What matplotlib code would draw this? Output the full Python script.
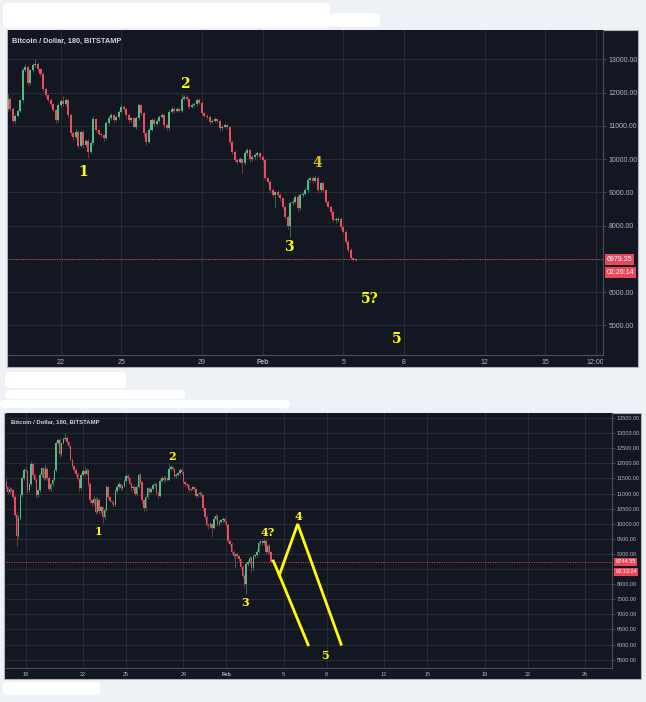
import numpy as np
import matplotlib

matplotlib.use("Agg")
import matplotlib.pyplot as plt
from matplotlib.patches import Rectangle, FancyBboxPatch
from matplotlib.transforms import blended_transform_factory, Bbox, TransformedBbox

W, H = 646, 702

# BTC/USD 3h candles (Bitstamp). Day numbers are counted in January days,
# so Feb 1 == 32. First candle opens Jan 16 15:00.
t_first = 16.625
t_step = 0.125
first_open = 11390
closes = [
    11200, 11060, 11150, 11100, 10900, 10300, 9600, 10200,
    10940, 11500, 11780, 11750, 11100, 11300, 11990, 11600,
    11450, 10940, 11100, 11600, 11830, 11500, 11820, 11520,
    11150, 11300, 11450, 11770, 12670, 12770, 12300, 12670,
    12820, 12850, 12700, 12570, 12120, 11920, 11770, 11650,
    11470, 11170, 11620, 11750, 11650, 11770, 11320, 10770,
    10670, 10820, 10400, 10800, 10420, 10550, 10220, 10470,
    11200, 10870, 10750, 10720, 10620, 11070, 11220, 11320,
    11170, 11250, 11420, 11570, 11500, 11320, 11170, 11220,
    10970, 11220, 11620, 11370, 10770, 10520, 10870, 11170,
    11050, 11150, 11270, 11320, 11020, 10920, 11420, 11520,
    11450, 11520, 11450, 11820, 11870, 11800, 11570, 11620,
    11670, 11790, 11700, 11370, 11300, 11270, 11120, 11150,
    11200, 11150, 10920, 10970, 11020, 10950, 10520, 10220,
    9970, 9920, 9990, 9870, 10170, 10270, 9990, 10050,
    10120, 10170, 10050, 9970, 9420, 9320, 9070, 8920,
    9000, 8920, 8820, 8570, 8270, 8000, 8670, 8720,
    8870, 8520, 8920, 8950, 9070, 9370, 9420, 9350,
    9420, 9070, 9270, 9070, 8720, 8570, 8420, 8170,
    8170, 8200, 7970, 7820, 7520, 7270, 7020, 6970,
    6979.35,
]
wick_up = [
    120, 60, 80, 50, 40, 60, 80, 90,
    60, 80, 70, 60, 40, 60, 90, 50,
    70, 60, 50, 80, 60, 40, 150, 60,
    50, 40, 60, 50, 60, 80, 60, 50,
    60, 170, 60, 40, 50, 60, 40, 60,
    50, 40, 60, 60, 150, 60, 40, 50,
    60, 90, 50, 80, 60, 50, 40, 60,
    80, 40, 60, 50, 40, 70, 60, 50,
    40, 60, 50, 80, 60, 40, 60, 50,
    40, 60, 70, 50, 40, 40, 60, 50,
    60, 50, 60, 50, 40, 50, 60, 70,
    50, 60, 40, 150, 60, 50, 40, 60,
    50, 60, 40, 50, 40, 60, 50, 40,
    50, 40, 60, 50, 60, 40, 50, 40,
    60, 50, 70, 40, 80, 60, 40, 60,
    50, 60, 40, 60, 50, 40, 60, 50,
    40, 60, 50, 40, 50, 60, 70, 80,
    60, 70, 60, 50, 80, 60, 40, 60,
    100, 60, 50, 60, 40, 60, 50, 40,
    80, 60, 50, 40, 60, 50, 40, 30,
    20,
]
wick_dn = [
    60, 80, 50, 60, 90, 80, 350, 60,
    80, 60, 40, 50, 90, 60, 50, 60,
    60, 90, 60, 50, 40, 60, 50, 70,
    80, 60, 50, 40, 60, 50, 90, 60,
    40, 60, 50, 70, 60, 50, 60, 80,
    60, 80, 50, 40, 60, 50, 60, 80,
    90, 60, 80, 50, 90, 60, 200, 60,
    50, 60, 40, 70, 80, 50, 40, 60,
    60, 40, 50, 40, 60, 50, 80, 60,
    50, 60, 40, 60, 120, 90, 50, 40,
    60, 40, 50, 40, 80, 60, 40, 50,
    60, 40, 50, 40, 50, 60, 50, 40,
    40, 60, 50, 60, 40, 70, 60, 50,
    40, 60, 80, 50, 40, 60, 90, 80,
    60, 80, 50, 300, 60, 40, 80, 50,
    40, 60, 50, 70, 60, 50, 80, 60,
    400, 60, 80, 60, 80, 90, 330, 60,
    50, 120, 60, 50, 40, 50, 60, 60,
    40, 80, 60, 70, 60, 50, 90, 60,
    80, 50, 60, 50, 80, 60, 50, 40,
    30,
]

# the lower screenshot was taken earlier: it stops at this candle
bottom_n_candles = 149
bottom_last_price = 8744.55
bottom_countdown = "02:13:24"
top_last_price = 6979.35
top_countdown = "02:26:14"

top_price_ticks = [5000, 6000, 7000, 8000, 9000, 10000, 11000, 12000, 13000]
top_hidden_labels = [7000]  # covered by the last-price marker
bottom_price_ticks = [5500, 6000, 6500, 7000, 7500, 8000, 8500, 9000, 9500,
                      10000, 10500, 11000, 11500, 12000, 12500, 13000, 13500]
bottom_hidden_labels = [8500]
top_date_ticks = [22, 25, 29, 32, 36, 39, 43, 46, 48.5]
top_date_labels = ["22", "25", "29", "Feb", "5", "8", "12", "15", "12:00"]
bottom_date_ticks = [18, 22, 25, 29, 32, 36, 39, 43, 46, 50, 53, 57]
bottom_date_labels = ["18", "22", "25", "29", "Feb", "5", "8", "12", "15", "19", "22", "26"]

top_wave_labels = ["1", "2", "3", "4", "5?", "5"]
top_wave_x = [23.1, 28.16, 33.31, 34.7, 37.33, 38.67]
top_wave_y = [9610, 12257, 7360, 9880, 5795, 4590]

bottom_wave_labels = ["1", "2", "3", "4?", "4", "5"]
bottom_wave_x = [23.05, 28.2, 33.3, 34.9, 36.99, 38.88]
bottom_wave_y = [9758, 12210, 7407, 9725, 10255, 5652]

# hand drawn projection on the lower chart
proj_x = [35.27, 35.69, 36.97, 40.0]
proj_y = [8765, 8300, 9990, 6010]
alt_x = [35.69, 37.7]
alt_y = [8300, 5990]

TITLE = "Bitcoin / Dollar, 180, BITSTAMP"

BG = "#131722"
GRID = "#272b36"
AXIS = "#4c505b"
TXT = "#b2b5be"
GREEN = "#53b987"
RED = "#eb4d5c"
GREEN_W = "#2f7e5c"
RED_W = "#9a3645"
YELLOW = "#ffff00"
MARK = "#e9485a"

plt.rcParams["font.family"] = ["Liberation Sans", "DejaVu Sans"]


def fx(px):
    return px / W


def fy(py):
    return 1 - py / H


def make_ohlc(n, last_price):
    c = np.array(closes[:n], dtype=float)
    c[-1] = last_price
    o = np.concatenate([[first_open], c[:-1]])
    hi = np.maximum(o, c) + np.array(wick_up[:n])
    lo = np.minimum(o, c) - np.array(wick_dn[:n])
    t = t_first + t_step * np.arange(n)
    return t, o, c, hi, lo


def draw_panel(ax, n, last_price, countdown, xlim, ylim, price_ticks, hidden,
               date_ticks, date_labels, body_w, tick_fs, pad_x, pad_y, right_px):
    t, o, c, hi, lo = make_ohlc(n, last_price)
    ax.set_facecolor(BG)
    up = c >= o
    for mask, body_col, wick_col in ((up, GREEN, GREEN_W), (~up, RED, RED_W)):
        ax.vlines(t[mask], lo[mask], hi[mask], color=wick_col, lw=0.6, zorder=2)
        ax.bar(t[mask], np.maximum(np.abs(c - o)[mask], 25), width=body_w,
               bottom=np.minimum(o, c)[mask], color=body_col, lw=0, zorder=3)

    ax.axhline(last_price, color=MARK, lw=0.7, ls=(0, (1, 1.5)), zorder=1)

    ax.set_xlim(*xlim)
    ax.set_ylim(*ylim)
    ax.yaxis.tick_right()
    ax.set_yticks(price_ticks)
    ax.set_yticklabels(["" if v in hidden else f"{v:.2f}" for v in price_ticks])
    ax.set_xticks(date_ticks)
    ax.set_xticklabels(date_labels)
    ax.grid(True, color=GRID, lw=0.8)
    ax.set_axisbelow(True)
    ax.tick_params(axis="y", colors=AXIS, labelcolor=TXT, labelsize=tick_fs,
                   length=2, width=0.6, pad=pad_y)
    ax.tick_params(axis="x", colors=AXIS, labelcolor=TXT, labelsize=tick_fs,
                   length=0, pad=pad_x)
    for side in ("top", "left"):
        ax.spines[side].set_visible(False)
    for side in ("right", "bottom"):
        ax.spines[side].set_color(AXIS)
        ax.spines[side].set_linewidth(0.8)
    for lab in ax.get_xticklabels():
        if lab.get_text() == "Feb":
            lab.set_fontweight("bold")
    # TradingView cuts the last time label at the price scale
    fig = ax.figure
    clip = TransformedBbox(Bbox([[0, 0], [fx(right_px), 1]]), fig.transFigure)
    last_lab = ax.get_xticklabels()[-1]
    last_lab.set_clip_on(True)
    last_lab.set_clip_box(clip)

    trans = blended_transform_factory(ax.transAxes, ax.transData)
    box = dict(boxstyle="square,pad=0.25", fc=MARK, ec="none")
    ax.annotate(f"{last_price:.2f}", xy=(1, last_price), xycoords=trans,
                xytext=(2.5, 0), textcoords="offset points", ha="left", va="center",
                fontsize=tick_fs, color="white", bbox=box, annotation_clip=False,
                zorder=6)
    ax.annotate(countdown, xy=(1, last_price), xycoords=trans,
                xytext=(2.5, -1.85 * tick_fs), textcoords="offset points",
                ha="left", va="center", fontsize=tick_fs, color="white", bbox=box,
                annotation_clip=False, zorder=6)


fig = plt.figure(figsize=(W / 100, H / 100), dpi=100)
fig.patch.set_facecolor("#eef2f6")

# screenshot frames and the white paint-overs (behind the axes)
for (x0, y0, x1, y1) in [(7, 30, 638, 367), (4, 413, 641, 679)]:
    fig.patches.append(Rectangle((fx(x0), fy(y1)), fx(x1 - x0), (y1 - y0) / H,
                                 transform=fig.transFigure, fc=BG, ec="#aeb3bb",
                                 lw=0.8, zorder=-2))
for (x0, y0, x1, y1) in [(3, 3, 330, 28), (330, 13, 380, 27), (5, 372, 126, 388),
                         (5, 390, 185, 399), (0, 400, 290, 408), (3, 682, 100, 695)]:
    fig.patches.append(FancyBboxPatch((fx(x0), fy(y1)), fx(x1 - x0), (y1 - y0) / H,
                                      boxstyle="round,pad=0,rounding_size=0.006",
                                      transform=fig.transFigure, fc="white", ec="none",
                                      zorder=-2))

ax_top = fig.add_axes([fx(8), fy(355), fx(603 - 8), (355 - 30) / H])
draw_panel(ax_top, len(closes), top_last_price, top_countdown,
           (19.39, 48.87), (4107, 13881), top_price_ticks, top_hidden_labels,
           top_date_ticks, top_date_labels, 0.1, 5.0, 3.2, 2.0, 603)
for lab, x, y in zip(top_wave_labels, top_wave_x, top_wave_y):
    ax_top.text(x, y, lab, ha="center", va="center", fontsize=10,
                fontweight="bold", family="DejaVu Serif",
                color="#dcc21a" if lab == "4" else YELLOW, zorder=5)
fig.text(fx(12), fy(41), TITLE, fontsize=5.3, fontweight="bold", color="#d1d4dc",
         va="center")

ax_bot = fig.add_axes([fx(6), fy(668), fx(612 - 6), (668 - 413) / H])
draw_panel(ax_bot, bottom_n_candles, bottom_last_price, bottom_countdown,
           (16.63, 58.89), (5222, 13666), bottom_price_ticks, bottom_hidden_labels,
           bottom_date_ticks, bottom_date_labels, 0.1, 4.0, 2.6, 1.5, 612)
ax_bot.plot(proj_x, proj_y, color=YELLOW, lw=2.0, solid_joinstyle="miter", zorder=4)
ax_bot.plot(alt_x, alt_y, color=YELLOW, lw=2.0, zorder=4)
for lab, x, y in zip(bottom_wave_labels, bottom_wave_x, bottom_wave_y):
    ax_bot.text(x, y, lab, ha="center", va="center", fontsize=8,
                fontweight="bold", family="DejaVu Serif", color=YELLOW, zorder=5)
fig.text(fx(11), fy(422), TITLE, fontsize=4.3, fontweight="bold", color="#d1d4dc",
         va="center")

fig.savefig("out.png", dpi=100, facecolor=fig.get_facecolor())
